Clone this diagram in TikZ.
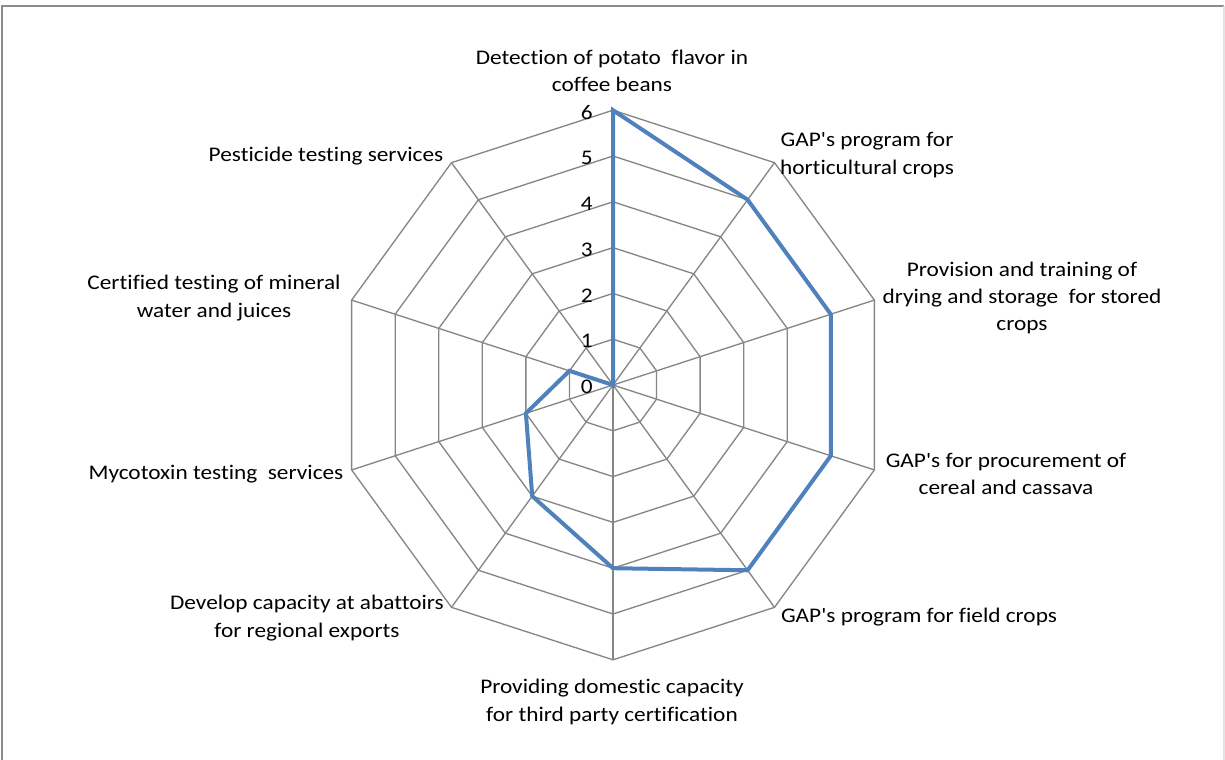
\documentclass[tikz,border=0pt]{standalone}
\usepackage{fontspec}
\setmainfont{Carlito}[Ligatures={TeXOff,NoCommon}, FakeStretch=1.12]
\definecolor{gridgray}{HTML}{868686}
\definecolor{framegray}{HTML}{8C8C8C}
\definecolor{seriesblue}{HTML}{4F81BD}
\tikzset{
  gridline/.style={draw=gridgray, line width=1pt},
  seriesline/.style={draw=seriesblue, line width=3pt, line join=miter},
  axlabel/.style={align=center, inner sep=0pt, font=\fontsize{15.6}{20.5}\selectfont},
  ticklabel/.style={anchor=east, inner sep=0pt, font=\fontsize{15.6}{17}\selectfont}
}
\begin{document}
\begin{tikzpicture}[x=0.75pt, y=-0.75pt]
\useasboundingbox (0,0) rectangle (1225,760);
% frame
\draw[framegray, line width=1.6pt] (2,775) -- (2,6) -- (1224,6);
\draw[black!10, line width=1pt] (1224,6) -- (1224,775);
\begin{scope}[shift={(613,385)}]
  \coordinate (c) at (0,0);
  % grid rings
  \foreach \r in {1,...,6} {
    \foreach \k in {0,...,9} {
      \coordinate (g\r-\k) at ({36*\k-90}:{45.8*\r});
    }
    \draw[gridline] (g\r-0) -- (g\r-1) -- (g\r-2) -- (g\r-3) -- (g\r-4) -- (g\r-5) -- (g\r-6) -- (g\r-7) -- (g\r-8) -- (g\r-9) -- cycle;
  }
  % spokes
  \foreach \k in {0,...,9} {
    \draw[gridline] (c) -- (g6-\k);
  }
  % tick labels
  \foreach \v in {0,...,6} {
    \node[ticklabel] (t\v) at (-20,{-45.8*\v+2}) {\v};
  }
  % series
  \coordinate (s0) at ({0-90}:{45.8*6});
  \coordinate (s1) at ({36-90}:{45.8*5});
  \coordinate (s2) at ({72-90}:{45.8*5});
  \coordinate (s3) at ({108-90}:{45.8*5});
  \coordinate (s4) at ({144-90}:{45.8*5});
  \coordinate (s5) at ({180-90}:{45.8*4});
  \coordinate (s6) at ({216-90}:{45.8*3});
  \coordinate (s7) at ({252-90}:{45.8*2});
  \coordinate (s8) at ({288-90}:{45.8*1});
  \coordinate (s9) at (0,0);
  \draw[seriesline] (s0) -- (s1) -- (s2) -- (s3) -- (s4) -- (s5) -- (s6) -- (s7) -- (s8) -- (s9) -- cycle;
\end{scope}
% axis labels
\node[axlabel] (l0) at (612,71) {Detection of potato\hspace{0.25em} flavor in\\coffee beans};
\node[axlabel] (l1) at (867,155) {GAP's program for\\horticultural crops};
\node[axlabel] (l2) at (1022,298) {Provision and training of\\drying and storage\hspace{0.25em} for stored\\crops};
\node[axlabel] (l3) at (1006,474) {GAP's for procurement of\\cereal and cassava};
\node[axlabel] (l4) at (919,617) {GAP's program for field crops};
\node[axlabel] (l5) at (612,702) {Providing domestic capacity\\for third party certification};
\node[axlabel] (l6) at (307,618) {Develop capacity at abattoirs\\for regional exports};
\node[axlabel] (l7) at (216,474) {Mycotoxin testing\hspace{0.25em} services};
\node[axlabel] (l8) at (214,298) {Certified testing of mineral\\water and juices};
\node[axlabel] (l9) at (326,156) {Pesticide testing services};
\end{tikzpicture}
\end{document}
